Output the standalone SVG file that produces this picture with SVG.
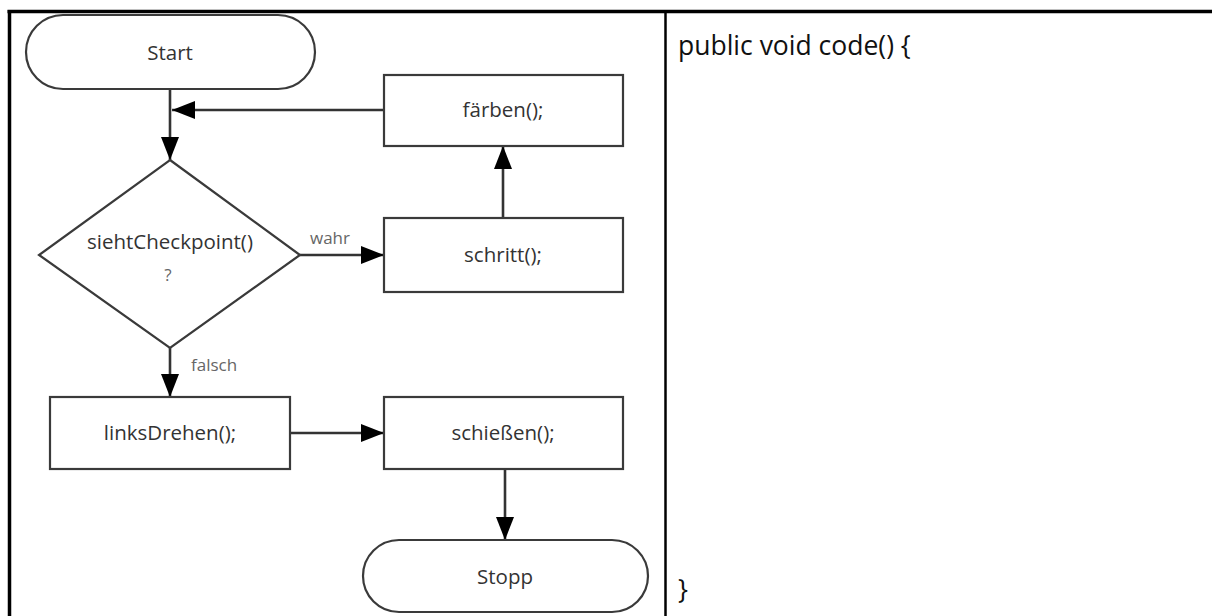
<svg xmlns="http://www.w3.org/2000/svg" width="1212" height="616" viewBox="0 0 1212 616">
<style>
.shape{fill:#fff;stroke:#3a3a3a;stroke-width:2.2}
.lbl{font-family:"Open Sans","Noto Sans",sans-serif;font-size:20.5px;fill:#333;text-anchor:middle}
.edge{font-family:"Open Sans","Noto Sans",sans-serif;font-size:17px;fill:#666}
.code{font-family:"Open Sans","Noto Sans",sans-serif;font-size:26.5px;fill:#111}
.conn{stroke:#333;stroke-width:2.6;fill:none;marker-end:url(#ah)}
</style>
<defs>
<marker id="ah" markerUnits="userSpaceOnUse" markerWidth="24" markerHeight="18" refX="23" refY="9" orient="auto">
<path d="M0,0 L23,9 L0,18 Z" fill="#000"/>
</marker>
</defs>
<rect width="1212" height="616" fill="#fff"/>
<g id="frame">
<line x1="7.5" y1="11.5" x2="1212" y2="11.5" stroke="#000" stroke-width="3.5"/>
<line x1="9.5" y1="10" x2="9.5" y2="616" stroke="#000" stroke-width="3.5"/>
<line x1="665.5" y1="12" x2="665.5" y2="616" stroke="#000" stroke-width="2.5"/>
</g>
<g id="connectors">
<line class="conn" x1="170" y1="89" x2="170" y2="160"/>
<line class="conn" x1="384" y1="110" x2="172" y2="110"/>
<line class="conn" x1="300" y1="255" x2="384" y2="255"/>
<line class="conn" x1="503" y1="218" x2="503" y2="146"/>
<line class="conn" x1="170" y1="348" x2="170" y2="397"/>
<line class="conn" x1="290" y1="433" x2="384" y2="433"/>
<line class="conn" x1="505" y1="469" x2="505" y2="540"/>
<text class="edge" x="310" y="244">wahr</text>
<text class="edge" x="191" y="371">falsch</text>
</g>
<g id="start">
<rect class="shape" x="26" y="15" width="289" height="74" rx="37"/>
<text class="lbl" x="170" y="60">Start</text>
</g>
<g id="faerben">
<rect class="shape" x="384" y="75" width="239" height="71"/>
<text class="lbl" x="503" y="117">färben();</text>
</g>
<g id="decision">
<polygon class="shape" points="170,160 300,255 170,348 39,255"/>
<text class="lbl" x="170" y="249">siehtCheckpoint()</text>
<text class="lbl" x="168" y="281" style="fill:#666;font-size:17px">?</text>
</g>
<g id="schritt">
<rect class="shape" x="384" y="218" width="239" height="74"/>
<text class="lbl" x="503" y="262">schritt();</text>
</g>
<g id="linksDrehen">
<rect class="shape" x="50" y="397" width="240" height="72"/>
<text class="lbl" x="170" y="440">linksDrehen();</text>
</g>
<g id="schiessen">
<rect class="shape" x="384" y="397" width="239" height="72"/>
<text class="lbl" x="503" y="440">schießen();</text>
</g>
<g id="stopp">
<rect class="shape" x="363" y="540" width="285" height="72" rx="36"/>
<text class="lbl" x="505" y="584">Stopp</text>
</g>
<g id="code">
<text class="code" x="678" y="55">public void code() {</text>
<text class="code" x="678" y="599">}</text>
</g>
</svg>
